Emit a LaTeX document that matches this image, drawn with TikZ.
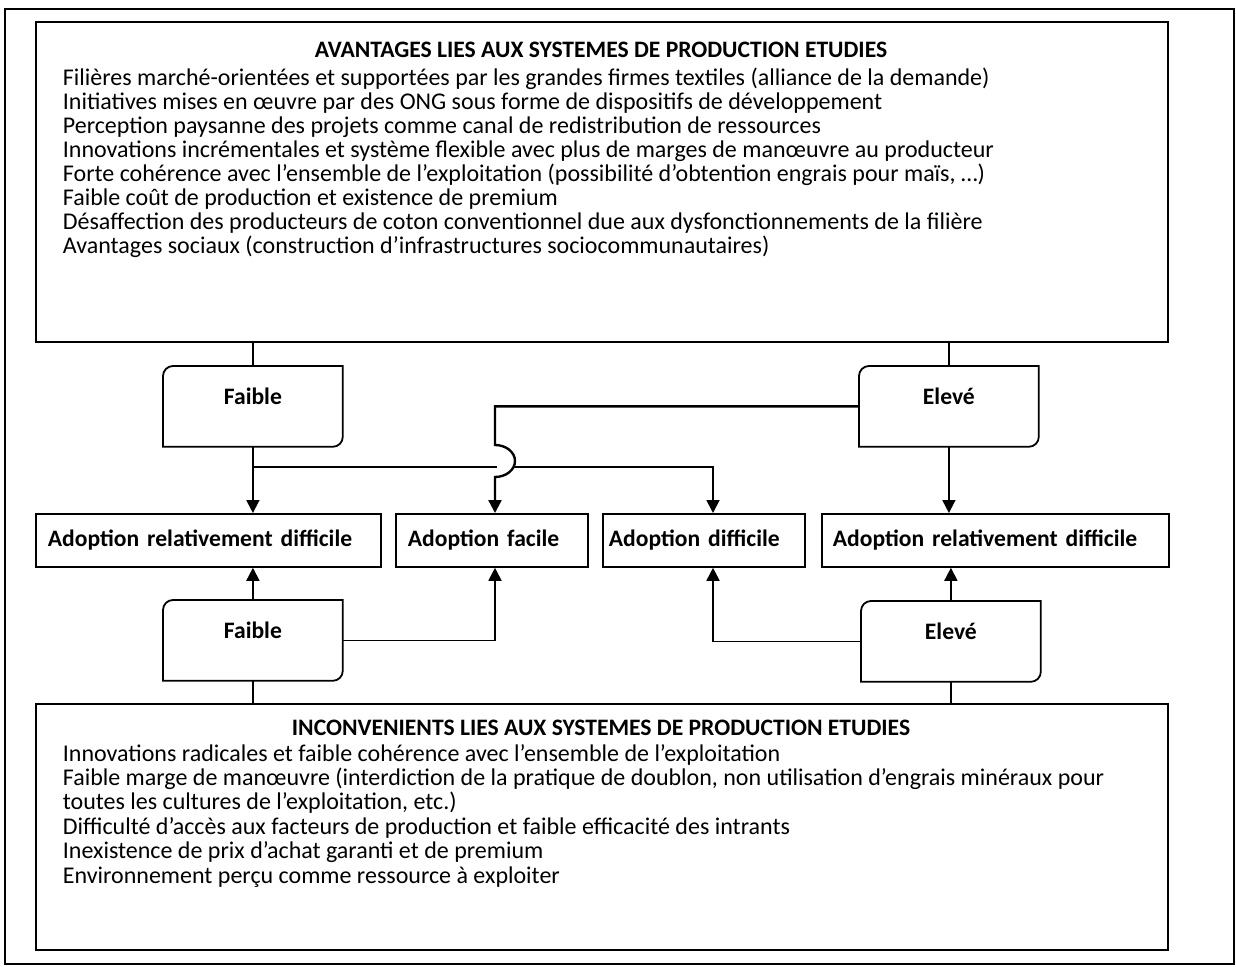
\documentclass[tikz,border=0pt]{standalone}
\usepackage{fontspec}
\setmainfont{Carlito}
\usetikzlibrary{arrows.meta}
\newcommand\rboxoutline[1]{%
  \draw ([yshift=-10pt]#1.north west) arc[start angle=180,end angle=90,radius=10pt]
    -- (#1.north east) -- ([yshift=10pt]#1.south east)
    arc[start angle=0,end angle=-90,radius=10pt] -- (#1.south west) -- cycle;}
\begin{document}
\begin{tikzpicture}[x=1pt,y=-1pt,line width=1.8pt,
  body/.style={anchor=base west,inner sep=0pt,font=\fontsize{24}{24}\selectfont},
  ttl/.style={anchor=base,inner sep=0pt,font=\fontsize{23.6}{24}\selectfont\bfseries},
  bigbox/.style={draw,line width=2.2pt,anchor=north west,inner sep=0pt},
  adopt/.style={draw,anchor=north west,inner ysep=0pt,minimum height=53pt,align=left,
    font=\fontsize{23.6}{24}\selectfont\bfseries},
  rbox/.style={anchor=north west,inner sep=0pt,minimum width=178pt,minimum height=79pt,
    text height=16pt,text depth=20pt,font=\fontsize{23.6}{24}\selectfont\bfseries},
  arr/.style={-{Triangle[width=13pt,length=13pt]}}]
\useasboundingbox (0,0) rectangle (1236,966);
% outer frame
\draw[line width=2.2pt] (5,9) rectangle (1234,964);
% big boxes
\node[bigbox,minimum width=1132pt,minimum height=320pt] (top) at (35,21) {};
\node[bigbox,minimum width=1132pt,minimum height=246pt] (bot) at (35,703) {};
\node[ttl] (ttop) at (601,57) {AVANTAGES LIES AUX SYSTEMES DE PRODUCTION ETUDIES};
\foreach \t [count=\i] in {
  {Filières marché-orientées et supportées par les grandes firmes textiles (alliance de la demande)},
  {Initiatives mises en œuvre par des ONG sous forme de dispositifs de développement},
  {Perception paysanne des projets comme canal de redistribution de ressources},
  {Innovations incrémentales et système flexible avec plus de marges de manœuvre au producteur},
  {Forte cohérence avec l’ensemble de l’exploitation (possibilité d’obtention engrais pour maïs, …)},
  {Faible coût de production et existence de premium},
  {Désaffection des producteurs de coton conventionnel due aux dysfonctionnements de la filière},
  {Avantages sociaux (construction d’infrastructures sociocommunautaires)}}
  \node[body] (a\i) at (62,{85+24.1*(\i-1)}) {\t};
\node[ttl] (tbot) at (601,735) {INCONVENIENTS LIES AUX SYSTEMES DE PRODUCTION ETUDIES};
\foreach \t [count=\i] in {
  {Innovations radicales et faible cohérence avec l’ensemble de l’exploitation},
  {Faible marge de manœuvre (interdiction de la pratique de doublon, non utilisation d’engrais minéraux pour},
  {toutes les cultures de l’exploitation, etc.)},
  {Difficulté d’accès aux facteurs de production et faible efficacité des intrants},
  {Inexistence de prix d’achat garanti et de premium},
  {Environnement perçu comme ressource à exploiter}}
  \node[body] (b\i) at (62,{761+24.4*(\i-1)}) {\t};
% adoption boxes
\node[adopt,inner xsep=12pt,text width=321pt] (ad1) at (35,513) {Adoption relativement difficile};
\node[adopt,inner xsep=12pt,text width=168pt] (ad2) at (395,513) {Adoption facile};
\node[adopt,inner xsep=6pt,text width=190pt] (ad3) at (602,513) {Adoption difficile};
\node[adopt,inner xsep=11pt,text width=325pt] (ad4) at (821,513) {Adoption relativement difficile};
% rounded boxes
\node[rbox] (f1) at (163,366) {Faible};
\node[rbox] (e1) at (859,366) {Elevé};
\node[rbox] (f2) at (163,600) {Faible};
\node[rbox] (e2) at (861,601) {Elevé};
\rboxoutline{f1}\rboxoutline{e1}\rboxoutline{f2}\rboxoutline{e2}
% helper coordinates
\coordinate (hy) at (0,467);
\coordinate (cx2) at (495,0);
\coordinate (cx3) at (713,0);
\coordinate (hopT) at (495,445);
% top connectors
\draw (top.south -| f1.north) -- (f1.north);
\draw (top.south -| e1.north) -- (e1.north);
\draw[arr] (f1.south) -- (f1.south |- ad1.north);
\draw[arr] (e1.south) -- (e1.south |- ad4.north);
\draw (f1.south |- hy) -- (497,467);
\draw[arr] (513.5,467) -- (cx3 |- hy) -- (cx3 |- ad3.north);
\draw[arr,line width=2.4pt] (e1.west) -- (cx2 |- e1.west) -- (hopT)
  arc[start angle=90,end angle=-90,x radius=20pt,y radius=16pt] -- (cx2 |- ad2.north);
% bottom connectors
\draw (f2.south) -- (f2.south |- bot.north);
\draw (e2.south) -- (e2.south |- bot.north);
\draw[arr] (f2.north) -- (f2.north |- ad1.south);
\draw[arr] (e2.north) -- (e2.north |- ad4.south);
\draw[arr] (f2.east) -- (cx2 |- f2.east) -- (cx2 |- ad2.south);
\draw[arr] (e2.west) -- (cx3 |- e2.west) -- (cx3 |- ad3.south);
\end{tikzpicture}
\end{document}
